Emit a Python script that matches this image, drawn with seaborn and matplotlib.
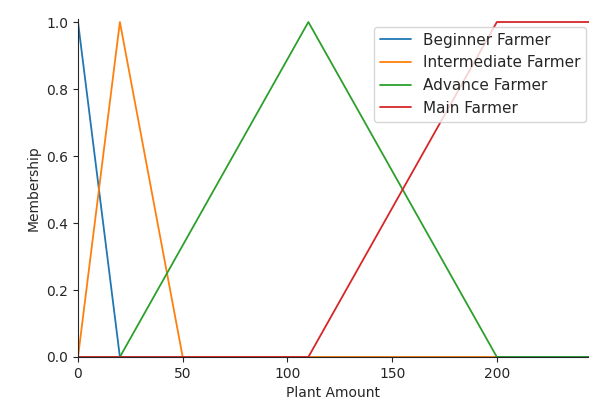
import matplotlib
matplotlib.use("Agg")
import matplotlib.pyplot as plt
import seaborn as sns

"""data: vertices of the membership functions"""
beginner_x = [0, 20, 244]
beginner_y = [1, 0, 0]
intermediate_x = [0, 20, 50, 200]
intermediate_y = [0, 1, 0, 0]
advance_x = [0, 20, 110, 200, 244]
advance_y = [0, 0, 1, 0, 0]
main_x = [0, 110, 200, 244]
main_y = [0, 0, 1, 1]
labels = ["Beginner Farmer", "Intermediate Farmer", "Advance Farmer", "Main Farmer"]

sns.set_style("ticks")
plt.rcParams['font.family'] = ['DejaVu Sans']

fig, ax = plt.subplots(figsize=(5.89, 4.08), dpi=100)
fig.subplots_adjust(left=78 / 589, right=1.0, top=1 - 19 / 408, bottom=1 - 357 / 408)

pal = sns.color_palette("tab10")
sns.lineplot(x=beginner_x, y=beginner_y, ax=ax, color=pal[0], label=labels[0], lw=1.3)
sns.lineplot(x=intermediate_x, y=intermediate_y, ax=ax, color=pal[1], label=labels[1], lw=1.3)
sns.lineplot(x=advance_x, y=advance_y, ax=ax, color=pal[2], label=labels[2], lw=1.3)
sns.lineplot(x=main_x, y=main_y, ax=ax, color=pal[3], label=labels[3], lw=1.3)

ax.set_xlim(0, 244)
ax.set_ylim(0, 1.009)
ax.set_xticks([0, 50, 100, 150, 200])
ax.set_yticks([0.0, 0.2, 0.4, 0.6, 0.8, 1.0])
ax.set_xlabel("Plant Amount", fontsize=10)
ax.set_ylabel("Membership", fontsize=10)
ax.tick_params(labelsize=10)
ax.legend(loc="upper right", bbox_to_anchor=(1.01, 1.0), fontsize=11, framealpha=0.8)
sns.despine(ax=ax)

plt.savefig("out.png", dpi=100)
